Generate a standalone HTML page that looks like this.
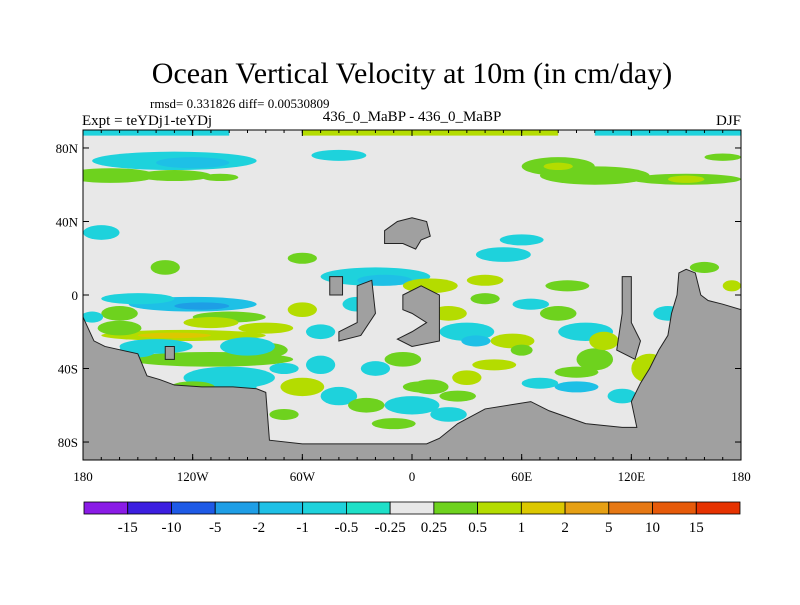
<!DOCTYPE html>
<html><head><meta charset="utf-8"><style>
body{margin:0;background:#fff;font-family:"Liberation Serif",serif}
svg text{font-family:"Liberation Serif",serif}
</style></head><body>
<svg id="chart" width="800" height="600" xmlns="http://www.w3.org/2000/svg">
<text x="412" y="83" font-size="30" text-anchor="middle">Ocean Vertical Velocity at 10m (in cm/day)</text>
<text x="150" y="108" font-size="13">rmsd= 0.331826 diff= 0.00530809</text>
<text x="82" y="125" font-size="15">Expt = teYDj1-teYDj</text>
<text x="412" y="121" font-size="15" text-anchor="middle">436_0_MaBP - 436_0_MaBP</text>
<text x="741" y="125" font-size="15" text-anchor="end">DJF</text>
<defs><clipPath id="plotclip"><rect x="83" y="130" width="658" height="330"/></clipPath></defs>
<g id="plot" clip-path="url(#plotclip)"></g>
<rect x="83" y="130" width="658" height="330" fill="none" stroke="#000" stroke-width="1"/>
<g id="axes"></g>
<g id="colorbar"></g>
</svg>
<script>
const colors=["#8a1be6","#3c1ee0","#1e5ae6","#1e9ee6","#1ec0e6","#1ed2dc","#1ee0c8","#e8e8e8","#6ed21e","#b4dc00","#dcc800","#e6a014","#e67814","#e65a0a","#e63200"];
const cbLabels=["-15","-10","-5","-2","-1","-0.5","-0.25","0.25","0.5","1","2","5","10","15"];
const xTicks=[-180,-120,-60,0,60,120,180];
const xTickLabels=["180","120W","60W","0","60E","120E","180"];
const yTicks=[80,40,0,-40,-80];
const yTickLabels=["80N","40N","0","40S","80S"];
// blobs: lon, lat, radius-lon, radius-lat, level index
const blobLon=[-130,-120,-40,-165,-130,-105,80,100,150,80,150,170,-170,-135,50,60,-20,-15,-120,-115,-125,-130,-110,-100,-160,-60,-40,-25,30,35,55,60,80,95,100,130,140,-150,-80,-70,0,10,30,-10,20,90,115,-120,-60,10,-30,170,
 -150,-100,-80,-140,-90,-60,-50,-5,20,40,45,70,90,130,160,175,-175,-160,-95,-70,-50,25,65,85,105,140,-110,-20,5,40];
const blobLat=[73,72,76,65,65,64,70,65,63,70,63,75,34,15,22,30,10,8,-5,-6,-22,-22,-35,-45,-10,-50,-55,-60,-20,-25,-25,-30,-10,-20,-35,-40,-10,-30,-30,-40,-60,-50,-45,-70,-65,-50,-55,-50,20,5,-5,-15,
 -2,-12,-18,-28,-28,-8,-38,-35,-10,-2,-38,-48,-42,-55,15,5,-12,-18,-50,-65,-20,-55,-5,5,-25,-60,-15,-40,-50,8];
const blobRx=[45,20,15,25,20,10,20,30,30,8,10,10,10,8,15,12,30,15,35,15,45,20,45,25,10,12,10,10,15,8,12,6,10,15,10,10,8,10,12,8,15,10,8,12,10,12,8,12,8,15,8,8,
 20,20,15,20,15,8,8,10,10,8,12,10,12,8,8,5,6,12,10,8,8,10,10,12,8,6,15,8,10,10];
const blobRy=[5,3,3,4,3,2,5,5,3,2,2,2,4,4,4,3,5,3,4,2,3,1.5,4,6,4,5,5,4,5,3,4,3,4,5,6,8,4,4,4,3,5,4,4,3,4,3,4,3,3,4,4,4,
 3,3,3,4,5,4,5,4,4,3,3,3,3,4,3,3,3,4,3,3,4,3,3,3,5,3,3,4,3,3];
const blobLvl=[5,4,5,8,8,8,8,8,8,9,9,8,5,8,5,5,5,4,4,3,9,10,8,5,8,9,5,8,5,4,9,8,8,5,8,9,5,5,8,5,5,8,9,8,5,4,5,8,8,9,5,8,
 5,8,9,5,5,9,5,8,9,8,9,5,8,5,8,9,5,8,5,8,5,8,5,8,9,5,9,5,8,9];
// land polygons (lon,lat pairs)
const landPolys=[
 [[-180,-12],[-174,-25],[-168,-28],[-150,-32],[-145,-44],[-138,-46],[-130,-49],[-115,-50],[-98,-50],[-85,-51],[-80,-53],[-78,-79],[-60,-81],[-20,-81],[8,-81],[15,-78],[25,-70],[40,-62],[65,-58],[75,-63],[95,-70],[115,-72],[123,-72],[120,-58],[125,-48],[130,-40],[135,-30],[140,-22],[142,-10],[145,0],[146,12],[150,14],[155,12],[158,0],[162,-3],[170,-5],[180,-8],[180,-90],[-180,-90]],
 [[-15,35],[-8,40],[0,42],[8,40],[10,32],[5,30],[2,25],[-5,28],[-15,28]],
 [[-5,0],[5,5],[15,0],[15,-25],[0,-28],[-8,-24],[0,-20],[8,-15],[0,-10],[-5,-8]],
 [[-30,5],[-22,8],[-20,-10],[-28,-22],[-40,-25],[-40,-20],[-30,-15]],
 [[-45,10],[-38,10],[-38,0],[-45,0]],
 [[115,10],[120,10],[120,-15],[125,-25],[122,-35],[112,-30],[115,-10]],
 [[-135,-28],[-130,-28],[-130,-35],[-135,-35]]
];
const X=lon=>83+(lon+180)*658/360;
const Y=lat=>295-lat*(165.4/90);
const NS="http://www.w3.org/2000/svg";
const plot=document.getElementById('plot');
function mk(tag,attrs,parent){const e=document.createElementNS(NS,tag);for(const k in attrs)e.setAttribute(k,attrs[k]);parent.appendChild(e);return e;}
const bg=mk('rect',{x:83,y:130,width:658,height:330,fill:colors[7]},plot);


const tb1=mk('rect',{x:X(-180),y:Y(90),width:X(-100)-X(-180),height:6,fill:colors[5]},plot);


const tb2=mk('rect',{x:X(-60),y:Y(90),width:X(80)-X(-60),height:6,fill:colors[9]},plot);


const tb3=mk('rect',{x:X(100),y:Y(90),width:X(180)-X(100),height:6,fill:colors[5]},plot);


for(let i=0;i<blobLon.length;i++){
 const e=mk('ellipse',{cx:X(blobLon[i]),cy:Y(blobLat[i]),rx:blobRx[i]*658/360,ry:blobRy[i]*165.4/90,fill:colors[blobLvl[i]]},plot);
 
 
}
landPolys.forEach(p=>{
 const e=mk('polygon',{points:p.map(q=>X(q[0])+','+Y(q[1])).join(' '),fill:'#a0a0a0',stroke:'#222','stroke-width':1},plot);
 
 
});
const axes=document.getElementById('axes');
xTicks.forEach((t,i)=>{
 mk('line',{x1:X(t),x2:X(t),y1:460,y2:454,stroke:'#000'},axes);
 mk('line',{x1:X(t),x2:X(t),y1:130,y2:136,stroke:'#000'},axes);
 const tx=mk('text',{x:X(t),y:481,'font-size':13,'text-anchor':'middle'},axes);tx.textContent=xTickLabels[i];
 
 
});
for(let l=-180;l<=180;l+=10){mk('line',{x1:X(l),x2:X(l),y1:460,y2:457,stroke:'#000'},axes);mk('line',{x1:X(l),x2:X(l),y1:130,y2:133,stroke:'#000'},axes);}
yTicks.forEach((t,i)=>{
 mk('line',{x1:83,x2:89,y1:Y(t),y2:Y(t),stroke:'#000'},axes);
 mk('line',{x1:741,x2:735,y1:Y(t),y2:Y(t),stroke:'#000'},axes);
 const tx=mk('text',{x:78,y:Y(t)+5,'font-size':13,'text-anchor':'end'},axes);tx.textContent=yTickLabels[i];
 
 
});
const cb=document.getElementById('colorbar');
const bw=(740-84)/colors.length;
colors.forEach((c,i)=>{
 const r=mk('rect',{x:84+i*bw,y:502,width:bw,height:12,fill:c,stroke:'#000','stroke-width':0.8},cb);
 
 
});
cbLabels.forEach((s,i)=>{
 const tx=mk('text',{x:84+(i+1)*bw,y:532,'font-size':15,'text-anchor':'middle'},cb);tx.textContent=s;
 
 
});
</script>
</body></html>
